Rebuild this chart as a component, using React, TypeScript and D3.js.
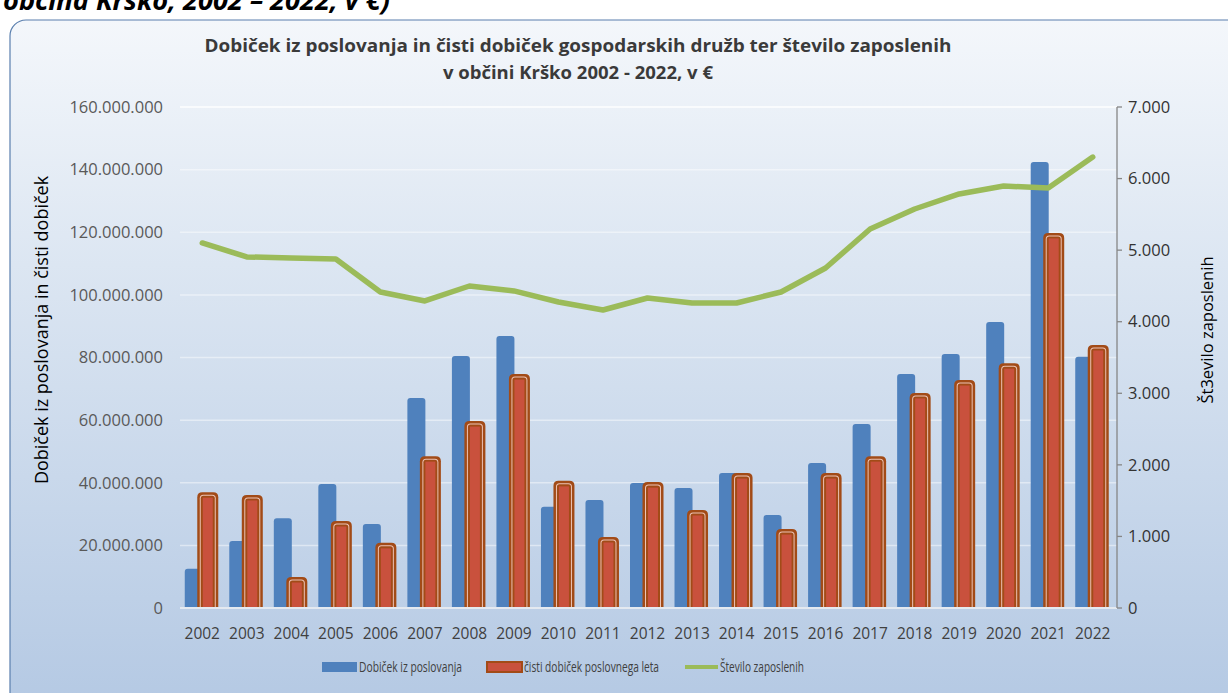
import React from "react";
import * as d3 from "d3";

const years = ["2002","2003","2004","2005","2006","2007","2008","2009","2010","2011","2012","2013","2014","2015","2016","2017","2018","2019","2020","2021","2022"];
const operatingProfit = [12.5e6, 21.4e6, 28.7e6, 39.6e6, 26.8e6, 67.1e6, 80.5e6, 86.9e6, 32.3e6, 34.5e6, 39.9e6, 38.3e6, 43.1e6, 29.7e6, 46.3e6, 58.8e6, 74.7e6, 81.1e6, 91.3e6, 142.4e6, 80.2e6];
const netProfit = [37.0e6, 36.1e6, 9.9e6, 27.8e6, 20.8e6, 48.5e6, 59.7e6, 74.7e6, 40.6e6, 22.7e6, 40.2e6, 31.3e6, 43.1e6, 25.2e6, 43.1e6, 48.5e6, 68.7e6, 72.8e6, 78.2e6, 119.8e6, 84.0e6];
const employees = [5100, 4905, 4890, 4876, 4415, 4290, 4499, 4430, 4276, 4164, 4331, 4262, 4262, 4415, 4750, 5296, 5575, 5785, 5896, 5868, 6301];
const leftTicks = [0, 20e6, 40e6, 60e6, 80e6, 100e6, 120e6, 140e6, 160e6];
const rightTicks = [0, 1000, 2000, 3000, 4000, 5000, 6000, 7000];

const titleLine1 = "Dobiček iz poslovanja in čisti dobiček gospodarskih družb ter število zaposlenih";
const titleLine2 = "v občini Krško 2002 - 2022, v €";
const topCutText = "občina Krško, 2002 – 2022, v €)";
const leftAxisTitle = "Dobiček iz poslovanja in čisti dobiček";
const rightAxisTitle = "Št3evilo zaposlenih";
const legendLabels = ["Dobiček  iz poslovanja", "čisti dobiček poslovnega leta", "Število zaposlenih"];

const W = 1228, H = 693;
const locale = d3.formatLocale({ decimal: ",", thousands: ".", grouping: [3], currency: ["", "€"] });
const fmt = locale.format(",d");

function topRounded(x: number, y: number, w: number, h: number, r: number) {
  const rr = Math.min(r, w / 2, h);
  return `M${x},${y + h}V${y + rr}Q${x},${y} ${x + rr},${y}H${x + w - rr}Q${x + w},${y} ${x + w},${y + rr}V${y + h}Z`;
}

const FONT = "'Open Sans', 'Noto Sans', sans-serif";

export default function App() {
  const x = d3.scaleBand<string>().domain(years).range([180, 1115]);
  const step = x.step();
  const cx = (y: string) => (x(y) as number) + step / 2;
  const yL = d3.scaleLinear().domain([0, 160e6]).range([608, 107]);
  const yR = d3.scaleLinear().domain([0, 7000]).range([608, 107]);
  const line = d3.line<number>().x((_, i) => cx(years[i])).y((d) => yR(d));
  const base = yL(0);

  return (
    <svg width={W} height={H} style={{ position: "absolute", left: 0, top: 0, background: "#fff" }}>
      <defs>
        <linearGradient id="bg" x1="0" y1="0" x2="0" y2="1">
          <stop offset="0" stopColor="#f4f7fb" />
          <stop offset="0.35" stopColor="#dce6f2" />
          <stop offset="1" stopColor="#b3c8e3" />
        </linearGradient>
      </defs>
      <text x={3} y={10} fontFamily={FONT} fontSize={26} fontWeight="bold" fontStyle="italic" fill="#000" textLength={387} lengthAdjust="spacingAndGlyphs">{topCutText}</text>
      <rect x={10} y={20} width={1240} height={700} rx={16} ry={16} fill="url(#bg)" stroke="#5a7fae" strokeWidth={1.2} />

      <text x={578} y={52} textAnchor="middle" fontFamily={FONT} fontSize={18.5} fontWeight="bold" fill="#3a3a3a" textLength={747} lengthAdjust="spacingAndGlyphs">{titleLine1}</text>
      <text x={578} y={79} textAnchor="middle" fontFamily={FONT} fontSize={18.5} fontWeight="bold" fill="#3a3a3a">{titleLine2}</text>

      {leftTicks.map((t) => (
        <line key={"g" + t} x1={180} x2={1117} y1={yL(t)} y2={yL(t)} stroke="#ffffff" strokeOpacity={t === 160e6 ? 0.9 : 0.45} strokeWidth={1.5} />
      ))}
      {leftTicks.map((t) => (
        <text key={"l" + t} x={163} y={yL(t)} dy="0.35em" textAnchor="end" fontFamily={FONT} fontSize={16.5} fill="#595959">{fmt(t)}</text>
      ))}
      <text transform={`translate(48,${330}) rotate(-90)`} textAnchor="middle" fontFamily={FONT} fontSize={18} fill="#000">{leftAxisTitle}</text>

      {years.map((yr, i) => {
        const c = cx(yr);
        const yb = yL(operatingProfit[i]);
        return <path key={"b" + yr} d={topRounded(c - 17.5, yb, 18, base - yb, 3)} fill="#4f81bd" />;
      })}
      {years.map((yr, i) => {
        const c = cx(yr);
        const yt = yL(netProfit[i]);
        const x0 = c - 5, w = 21, h = base - yt;
        return (
          <g key={"r" + yr}>
            <path d={topRounded(x0, yt, w, h, 5)} fill="#a24b17" />
            <path d={topRounded(x0 + 2.5, yt + 2.5, w - 5, h - 2.5, 3.5)} fill="#ecc3b6" />
            <path d={topRounded(x0 + 3.5, yt + 3.5, w - 7, h - 3.5, 2.5)} fill="#a24b17" />
            <rect x={x0 + 5.5} y={yt + 5.5} width={Math.max(0, w - 11)} height={Math.max(0, h - 5.5)} fill="#c9513d" />
          </g>
        );
      })}

      <line x1={180} x2={1117} y1={base} y2={base} stroke="#e4e9f0" strokeWidth={2} />

      <path d={line(employees) || ""} fill="none" stroke="#9bbb59" strokeWidth={5.5} strokeLinejoin="round" strokeLinecap="round" />

      <line x1={1117} x2={1117} y1={107} y2={608} stroke="#868686" strokeWidth={1.3} />
      {rightTicks.map((t) => (
        <g key={"r" + t}>
          <line x1={1117} x2={1122} y1={yR(t)} y2={yR(t)} stroke="#868686" strokeWidth={1.3} />
          <text x={1128} y={yR(t)} dy="0.35em" fontFamily={FONT} fontSize={16.5} fill="#333">{fmt(t)}</text>
        </g>
      ))}
      <text transform={`translate(1213,${330}) rotate(-90)`} textAnchor="middle" fontFamily={FONT} fontSize={16.5} fill="#000">{rightAxisTitle}</text>

      {years.map((yr) => (
        <text key={"x" + yr} x={cx(yr)} y={634} dy="0.35em" textAnchor="middle" fontFamily={FONT} fontSize={15.5} fill="#404040">{yr}</text>
      ))}

      <g fontFamily={FONT} fontSize={14} fill="#404040">
        <rect x={322} y={662} width={35} height={10} fill="#4f81bd" />
        <text x={359} y={667} dy="0.35em" textLength={103} lengthAdjust="spacingAndGlyphs">{legendLabels[0]}</text>
        <rect x={487} y={662} width={35} height={10} fill="#c9513d" stroke="#a24b17" strokeWidth={2} />
        <text x={524} y={667} dy="0.35em" textLength={135} lengthAdjust="spacingAndGlyphs">{legendLabels[1]}</text>
        <line x1={685} x2={718} y1={667} y2={667} stroke="#9bbb59" strokeWidth={4} />
        <text x={720} y={667} dy="0.35em" textLength={84} lengthAdjust="spacingAndGlyphs">{legendLabels[2]}</text>
      </g>
    </svg>
  );
}
